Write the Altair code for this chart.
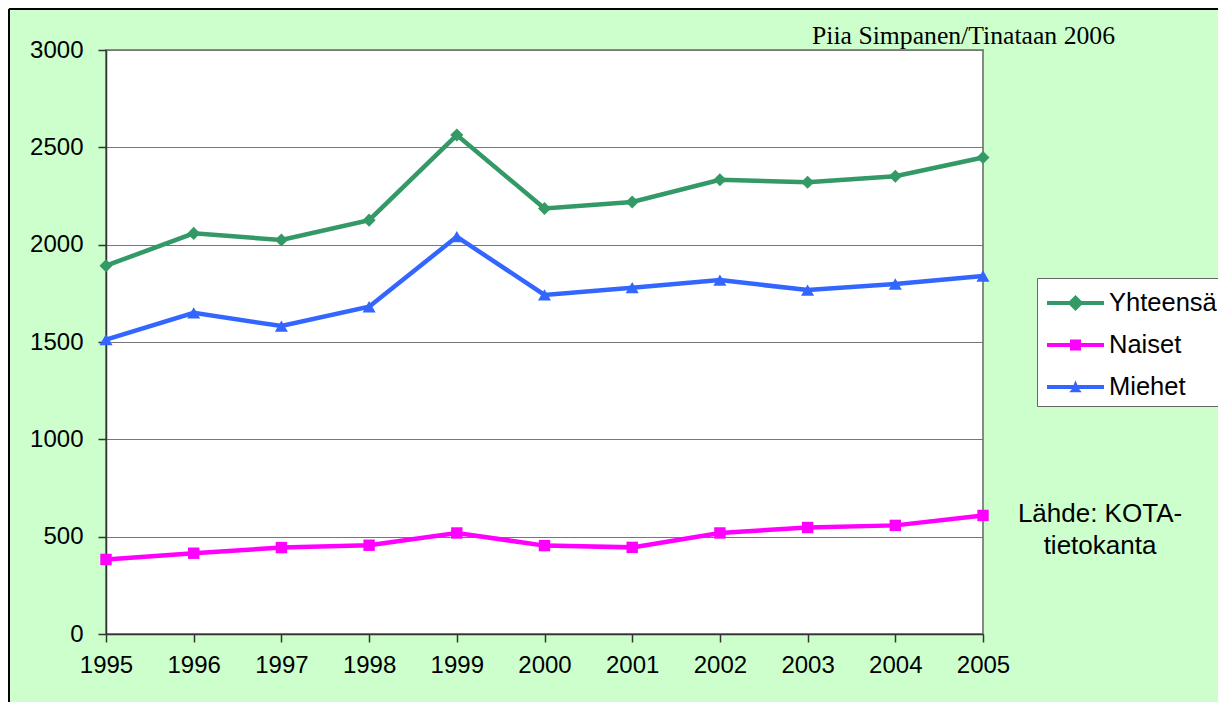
import altair as alt
import pandas as pd

years = [1995, 1996, 1997, 1998, 1999, 2000, 2001, 2002, 2003, 2004, 2005]
yhteensa = [1892, 2058, 2024, 2126, 2563, 2186, 2219, 2333, 2321, 2352, 2448]
naiset = [383, 415, 444, 456, 519, 454, 445, 519, 547, 558, 609]
miehet = [1512, 1650, 1582, 1681, 2041, 1742, 1779, 1818, 1767, 1798, 1839]

series_names = ["Yhteensä", "Naiset", "Miehet"]
series_colors = ["#339966", "#FF00FF", "#3366FF"]
series_shapes = ["diamond", "square", "triangle-up"]
series_sizes = [170, 130, 170]
y_ticks = [0, 500, 1000, 1500, 2000, 2500, 3000]

rows = []
for name, vals in zip(series_names, [yhteensa, naiset, miehet]):
    for yr, v in zip(years, vals):
        rows.append({"Vuosi": yr, "Arvo": v, "Sarja": name})
df = pd.DataFrame(rows)

FONT = "Liberation Sans"

# legend symbols: line segment + marker (custom paths)
leg_diamond = "M-0.75,-0.1H0.375L0.675,-0.4L0.975,-0.1H2.1V0.1H0.975L0.675,0.4L0.375,0.1H-0.75Z"
leg_square = "M-0.75,-0.1H0.4V-0.28H0.95V-0.1H2.1V0.1H0.95V0.28H0.4V0.1H-0.75Z"
leg_triangle = "M-0.75,-0.1H0.58L0.675,-0.34L0.77,-0.1H2.1V0.1H0.85L0.99,0.26H0.36L0.5,0.1H-0.75Z"

x_enc = alt.X(
    "Vuosi:Q",
    scale=alt.Scale(domain=[1995, 2005], nice=False, zero=False),
    axis=alt.Axis(values=years, format="d", title=None, grid=False, labelFontSize=24,
                  labelFont=FONT, labelColor="black", tickSize=8, tickColor="#333",
                  tickWidth=1.5, domainColor="#333", domainWidth=1.5, labelPadding=11,
                  labelFlush=False, labelOverlap=False),
)
y_enc = alt.Y(
    "Arvo:Q",
    scale=alt.Scale(domain=[0, 3000], nice=False),
    axis=alt.Axis(values=y_ticks, format="d", title=None, grid=True, gridColor="#777",
                  gridWidth=1, labelFontSize=24, labelFont=FONT, labelColor="black",
                  tickSize=8, tickColor="#333", tickWidth=1.5, domainColor="#333",
                  domainWidth=1.5, labelPadding=15, labelFlush=False),
)

base = alt.Chart(df)

layers = []
for name, col in zip(series_names, series_colors):
    layers.append(
        base.transform_filter(alt.datum.Sarja == name)
        .mark_line(strokeWidth=4.5, color=col)
        .encode(x=x_enc, y=y_enc)
    )
for name, col, shp, sz in zip(series_names, series_colors, series_shapes, series_sizes):
    layers.append(
        base.transform_filter(alt.datum.Sarja == name)
        .mark_point(shape=shp, filled=True, size=sz, opacity=1, color=col)
        .encode(x=x_enc, y=y_enc)
    )

leg = alt.Legend(title=None, orient="none", legendX=931, legendY=228,
                 symbolSize=1600, symbolOpacity=1, symbolStrokeWidth=0,
                 labelFontSize=25.5, labelFont=FONT, labelColor="black",
                 labelOffset=27, padding=5, rowPadding=8,
                 fillColor="white", strokeColor="#666", labelLimit=300)

legend_layer = base.mark_point(filled=True, opacity=0).encode(
    x=x_enc, y=y_enc,
    color=alt.Color("Sarja:N", scale=alt.Scale(domain=series_names, range=series_colors),
                    legend=leg),
    shape=alt.Shape("Sarja:N",
                    scale=alt.Scale(domain=series_names,
                                    range=[leg_diamond, leg_square, leg_triangle]),
                    legend=leg),
)
layers.append(legend_layer)

notes = pd.DataFrame({"teksti": ["Piia Simpanen/Tinataan 2006"]})
layers.append(alt.Chart(notes).mark_text(
    font="Liberation Serif", fontSize=25.7, align="left", baseline="alphabetic", color="black"
).encode(x=alt.value(706), y=alt.value(-6), text="teksti:N"))

source = pd.DataFrame({"teksti": ["Lähde: KOTA-\ntietokanta"]})
layers.append(alt.Chart(source).mark_text(
    font=FONT, fontSize=26, align="center", baseline="alphabetic", color="black",
    lineBreak="\n", lineHeight=32
).encode(x=alt.value(994), y=alt.value(472), text="teksti:N"))

one = pd.DataFrame({"k": [0]})
layers.append(alt.Chart(one).mark_rule(stroke="black", strokeWidth=2).encode(
    x=alt.value(-97), y=alt.value(-41), y2=alt.value(700)))
layers.append(alt.Chart(one).mark_rule(stroke="black", strokeWidth=2).encode(
    x=alt.value(-97), x2=alt.value(1200), y=alt.value(-41)))

chart = alt.layer(*layers).properties(
    width=877, height=584,
    padding={"left": 98, "top": 42, "right": 235, "bottom": 68},
    autosize=alt.AutoSizeParams(type="none"),
    background="#CCFFCC",
).configure_view(fill="white", stroke="#888", strokeWidth=2)

chart.save("out.html", embed_options={"renderer": "svg", "actions": False})
